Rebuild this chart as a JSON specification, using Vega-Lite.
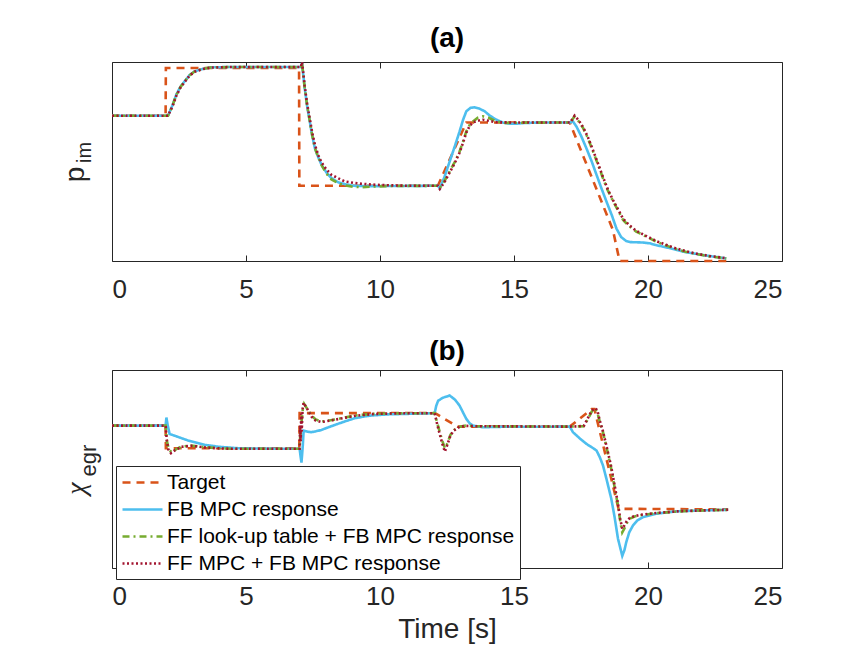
{
  "$schema": "https://vega.github.io/schema/vega-lite/v6.json",
  "padding": {"left": 60, "top": 24, "right": 20, "bottom": 5},
  "config": {
    "font": "Liberation Sans",
    "view": {"stroke": "#262626", "strokeWidth": 1},
    "axis": {"grid": false, "domain": false, "tickColor": "#262626", "labelColor": "#262626", "titleColor": "#262626", "labelFont": "Liberation Sans", "titleFont": "Liberation Sans", "titleFontWeight": "normal"},
    "title": {"font": "Liberation Sans", "fontSize": 28, "fontWeight": "bold", "color": "black", "offset": 4},
    "legend": {
      "orient": "none", "legendX": 4, "legendY": 404,
      "title": null, "labelFontSize": 21, "labelFont": "Liberation Sans", "labelColor": "black", "labelLimit": 600,
      "symbolType": "M-1,0H3", "symbolSize": 400, "symbolStrokeWidth": 2.5,
      "labelOffset": 23, "padding": 5, "rowPadding": 5,
      "strokeColor": "#262626", "fillColor": "white"
    }
  },
  "datasets": {
    "a": [
      {"t": 0, "v": 0.730, "s": "Target"}, {"t": 2.0, "v": 0.730, "s": "Target"}, {"t": 2.01, "v": 0.970, "s": "Target"}, {"t": 6.98, "v": 0.970, "s": "Target"}, {"t": 6.99, "v": 0.378, "s": "Target"}, {"t": 12.16, "v": 0.378, "s": "Target"}, {"t": 13.22, "v": 0.696, "s": "Target"}, {"t": 17.08, "v": 0.696, "s": "Target"}, {"t": 18.69, "v": 0.156, "s": "Target"}, {"t": 18.94, "v": 0.0, "s": "Target"}, {"t": 22.95, "v": 0.0, "s": "Target"},

      {"t": 0, "v": 0.730, "s": "FB MPC response"}, {"t": 2.09, "v": 0.730, "s": "FB MPC response"}, {"t": 2.25, "v": 0.78, "s": "FB MPC response"}, {"t": 2.40, "v": 0.836, "s": "FB MPC response"}, {"t": 2.55, "v": 0.875, "s": "FB MPC response"}, {"t": 2.71, "v": 0.903, "s": "FB MPC response"}, {"t": 2.9, "v": 0.935, "s": "FB MPC response"}, {"t": 3.08, "v": 0.953, "s": "FB MPC response"}, {"t": 3.4, "v": 0.966, "s": "FB MPC response"}, {"t": 3.7, "v": 0.973, "s": "FB MPC response"}, {"t": 4.5, "v": 0.975, "s": "FB MPC response"}, {"t": 7.05, "v": 0.975, "s": "FB MPC response"}, {"t": 7.09, "v": 0.995, "s": "FB MPC response"}, {"t": 7.19, "v": 0.869, "s": "FB MPC response"}, {"t": 7.28, "v": 0.78, "s": "FB MPC response"}, {"t": 7.38, "v": 0.701, "s": "FB MPC response"}, {"t": 7.47, "v": 0.63, "s": "FB MPC response"}, {"t": 7.57, "v": 0.567, "s": "FB MPC response"}, {"t": 7.7, "v": 0.52, "s": "FB MPC response"}, {"t": 7.82, "v": 0.483, "s": "FB MPC response"}, {"t": 8.0, "v": 0.445, "s": "FB MPC response"}, {"t": 8.19, "v": 0.416, "s": "FB MPC response"}, {"t": 8.45, "v": 0.395, "s": "FB MPC response"}, {"t": 8.69, "v": 0.386, "s": "FB MPC response"}, {"t": 9.0, "v": 0.378, "s": "FB MPC response"}, {"t": 9.5, "v": 0.376, "s": "FB MPC response"}, {"t": 10.5, "v": 0.377, "s": "FB MPC response"}, {"t": 12.16, "v": 0.378, "s": "FB MPC response"}, {"t": 12.23, "v": 0.366, "s": "FB MPC response"}, {"t": 12.4, "v": 0.42, "s": "FB MPC response"}, {"t": 12.6, "v": 0.50, "s": "FB MPC response"}, {"t": 12.8, "v": 0.58, "s": "FB MPC response"}, {"t": 12.97, "v": 0.651, "s": "FB MPC response"}, {"t": 13.1, "v": 0.71, "s": "FB MPC response"}, {"t": 13.22, "v": 0.752, "s": "FB MPC response"}, {"t": 13.38, "v": 0.77, "s": "FB MPC response"}, {"t": 13.53, "v": 0.772, "s": "FB MPC response"}, {"t": 13.7, "v": 0.766, "s": "FB MPC response"}, {"t": 13.91, "v": 0.752, "s": "FB MPC response"}, {"t": 14.1, "v": 0.73, "s": "FB MPC response"}, {"t": 14.34, "v": 0.71, "s": "FB MPC response"}, {"t": 14.6, "v": 0.695, "s": "FB MPC response"}, {"t": 14.84, "v": 0.690, "s": "FB MPC response"}, {"t": 15.1, "v": 0.690, "s": "FB MPC response"}, {"t": 15.34, "v": 0.693, "s": "FB MPC response"}, {"t": 15.96, "v": 0.696, "s": "FB MPC response"}, {"t": 17.08, "v": 0.696, "s": "FB MPC response"}, {"t": 17.2, "v": 0.701, "s": "FB MPC response"}, {"t": 17.33, "v": 0.676, "s": "FB MPC response"}, {"t": 17.5, "v": 0.63, "s": "FB MPC response"}, {"t": 17.7, "v": 0.567, "s": "FB MPC response"}, {"t": 17.9, "v": 0.50, "s": "FB MPC response"}, {"t": 18.08, "v": 0.433, "s": "FB MPC response"}, {"t": 18.25, "v": 0.37, "s": "FB MPC response"}, {"t": 18.45, "v": 0.299, "s": "FB MPC response"}, {"t": 18.65, "v": 0.23, "s": "FB MPC response"}, {"t": 18.82, "v": 0.164, "s": "FB MPC response"}, {"t": 19.0, "v": 0.12, "s": "FB MPC response"}, {"t": 19.19, "v": 0.10, "s": "FB MPC response"}, {"t": 19.35, "v": 0.095, "s": "FB MPC response"}, {"t": 19.56, "v": 0.094, "s": "FB MPC response"}, {"t": 19.8, "v": 0.093, "s": "FB MPC response"}, {"t": 20.06, "v": 0.089, "s": "FB MPC response"}, {"t": 20.3, "v": 0.080, "s": "FB MPC response"}, {"t": 20.56, "v": 0.072, "s": "FB MPC response"}, {"t": 20.9, "v": 0.062, "s": "FB MPC response"}, {"t": 21.3, "v": 0.047, "s": "FB MPC response"}, {"t": 21.7, "v": 0.038, "s": "FB MPC response"}, {"t": 22.05, "v": 0.030, "s": "FB MPC response"}, {"t": 22.5, "v": 0.021, "s": "FB MPC response"}, {"t": 22.92, "v": 0.013, "s": "FB MPC response"},

      {"t": 0, "v": 0.730, "s": "FF look-up table + FB MPC response"}, {"t": 2.09, "v": 0.730, "s": "FF look-up table + FB MPC response"}, {"t": 2.25, "v": 0.778, "s": "FF look-up table + FB MPC response"}, {"t": 2.40, "v": 0.834, "s": "FF look-up table + FB MPC response"}, {"t": 2.55, "v": 0.873, "s": "FF look-up table + FB MPC response"}, {"t": 2.71, "v": 0.902, "s": "FF look-up table + FB MPC response"}, {"t": 2.9, "v": 0.934, "s": "FF look-up table + FB MPC response"}, {"t": 3.08, "v": 0.952, "s": "FF look-up table + FB MPC response"}, {"t": 3.4, "v": 0.966, "s": "FF look-up table + FB MPC response"}, {"t": 3.7, "v": 0.973, "s": "FF look-up table + FB MPC response"}, {"t": 4.5, "v": 0.975, "s": "FF look-up table + FB MPC response"}, {"t": 7.05, "v": 0.975, "s": "FF look-up table + FB MPC response"}, {"t": 7.09, "v": 0.995, "s": "FF look-up table + FB MPC response"}, {"t": 7.19, "v": 0.870, "s": "FF look-up table + FB MPC response"}, {"t": 7.28, "v": 0.782, "s": "FF look-up table + FB MPC response"}, {"t": 7.38, "v": 0.703, "s": "FF look-up table + FB MPC response"}, {"t": 7.47, "v": 0.632, "s": "FF look-up table + FB MPC response"}, {"t": 7.57, "v": 0.568, "s": "FF look-up table + FB MPC response"}, {"t": 7.7, "v": 0.52, "s": "FF look-up table + FB MPC response"}, {"t": 7.82, "v": 0.482, "s": "FF look-up table + FB MPC response"}, {"t": 8.0, "v": 0.44, "s": "FF look-up table + FB MPC response"}, {"t": 8.19, "v": 0.41, "s": "FF look-up table + FB MPC response"}, {"t": 8.45, "v": 0.39, "s": "FF look-up table + FB MPC response"}, {"t": 8.69, "v": 0.38, "s": "FF look-up table + FB MPC response"}, {"t": 9.0, "v": 0.373, "s": "FF look-up table + FB MPC response"}, {"t": 9.3, "v": 0.371, "s": "FF look-up table + FB MPC response"}, {"t": 9.8, "v": 0.374, "s": "FF look-up table + FB MPC response"}, {"t": 10.5, "v": 0.377, "s": "FF look-up table + FB MPC response"}, {"t": 12.16, "v": 0.378, "s": "FF look-up table + FB MPC response"}, {"t": 12.23, "v": 0.366, "s": "FF look-up table + FB MPC response"}, {"t": 12.4, "v": 0.40, "s": "FF look-up table + FB MPC response"}, {"t": 12.6, "v": 0.45, "s": "FF look-up table + FB MPC response"}, {"t": 12.8, "v": 0.50, "s": "FF look-up table + FB MPC response"}, {"t": 12.97, "v": 0.55, "s": "FF look-up table + FB MPC response"}, {"t": 13.1, "v": 0.60, "s": "FF look-up table + FB MPC response"}, {"t": 13.22, "v": 0.651, "s": "FF look-up table + FB MPC response"}, {"t": 13.35, "v": 0.685, "s": "FF look-up table + FB MPC response"}, {"t": 13.47, "v": 0.701, "s": "FF look-up table + FB MPC response"}, {"t": 13.65, "v": 0.72, "s": "FF look-up table + FB MPC response"}, {"t": 13.84, "v": 0.727, "s": "FF look-up table + FB MPC response"}, {"t": 14.05, "v": 0.72, "s": "FF look-up table + FB MPC response"}, {"t": 14.34, "v": 0.701, "s": "FF look-up table + FB MPC response"}, {"t": 14.7, "v": 0.694, "s": "FF look-up table + FB MPC response"}, {"t": 15.2, "v": 0.695, "s": "FF look-up table + FB MPC response"}, {"t": 17.1, "v": 0.696, "s": "FF look-up table + FB MPC response"}, {"t": 17.26, "v": 0.727, "s": "FF look-up table + FB MPC response"}, {"t": 17.4, "v": 0.705, "s": "FF look-up table + FB MPC response"}, {"t": 17.58, "v": 0.668, "s": "FF look-up table + FB MPC response"}, {"t": 17.75, "v": 0.62, "s": "FF look-up table + FB MPC response"}, {"t": 17.95, "v": 0.55, "s": "FF look-up table + FB MPC response"}, {"t": 18.12, "v": 0.49, "s": "FF look-up table + FB MPC response"}, {"t": 18.32, "v": 0.416, "s": "FF look-up table + FB MPC response"}, {"t": 18.5, "v": 0.355, "s": "FF look-up table + FB MPC response"}, {"t": 18.7, "v": 0.299, "s": "FF look-up table + FB MPC response"}, {"t": 18.9, "v": 0.25, "s": "FF look-up table + FB MPC response"}, {"t": 19.07, "v": 0.206, "s": "FF look-up table + FB MPC response"}, {"t": 19.3, "v": 0.175, "s": "FF look-up table + FB MPC response"}, {"t": 19.56, "v": 0.148, "s": "FF look-up table + FB MPC response"}, {"t": 19.9, "v": 0.125, "s": "FF look-up table + FB MPC response"}, {"t": 20.31, "v": 0.097, "s": "FF look-up table + FB MPC response"}, {"t": 20.7, "v": 0.077, "s": "FF look-up table + FB MPC response"}, {"t": 21.05, "v": 0.060, "s": "FF look-up table + FB MPC response"}, {"t": 21.4, "v": 0.047, "s": "FF look-up table + FB MPC response"}, {"t": 21.8, "v": 0.035, "s": "FF look-up table + FB MPC response"}, {"t": 22.3, "v": 0.023, "s": "FF look-up table + FB MPC response"}, {"t": 22.92, "v": 0.013, "s": "FF look-up table + FB MPC response"},

      {"t": 0, "v": 0.730, "s": "FF MPC + FB MPC response"}, {"t": 2.09, "v": 0.730, "s": "FF MPC + FB MPC response"}, {"t": 2.25, "v": 0.775, "s": "FF MPC + FB MPC response"}, {"t": 2.40, "v": 0.83, "s": "FF MPC + FB MPC response"}, {"t": 2.55, "v": 0.87, "s": "FF MPC + FB MPC response"}, {"t": 2.71, "v": 0.90, "s": "FF MPC + FB MPC response"}, {"t": 2.9, "v": 0.932, "s": "FF MPC + FB MPC response"}, {"t": 3.08, "v": 0.951, "s": "FF MPC + FB MPC response"}, {"t": 3.4, "v": 0.965, "s": "FF MPC + FB MPC response"}, {"t": 3.7, "v": 0.972, "s": "FF MPC + FB MPC response"}, {"t": 4.5, "v": 0.975, "s": "FF MPC + FB MPC response"}, {"t": 7.05, "v": 0.975, "s": "FF MPC + FB MPC response"}, {"t": 7.09, "v": 1.0, "s": "FF MPC + FB MPC response"}, {"t": 7.19, "v": 0.88, "s": "FF MPC + FB MPC response"}, {"t": 7.28, "v": 0.79, "s": "FF MPC + FB MPC response"}, {"t": 7.38, "v": 0.715, "s": "FF MPC + FB MPC response"}, {"t": 7.47, "v": 0.645, "s": "FF MPC + FB MPC response"}, {"t": 7.57, "v": 0.585, "s": "FF MPC + FB MPC response"}, {"t": 7.7, "v": 0.53, "s": "FF MPC + FB MPC response"}, {"t": 7.82, "v": 0.495, "s": "FF MPC + FB MPC response"}, {"t": 8.0, "v": 0.46, "s": "FF MPC + FB MPC response"}, {"t": 8.19, "v": 0.433, "s": "FF MPC + FB MPC response"}, {"t": 8.45, "v": 0.415, "s": "FF MPC + FB MPC response"}, {"t": 8.69, "v": 0.40, "s": "FF MPC + FB MPC response"}, {"t": 9.0, "v": 0.393, "s": "FF MPC + FB MPC response"}, {"t": 9.3, "v": 0.388, "s": "FF MPC + FB MPC response"}, {"t": 9.7, "v": 0.384, "s": "FF MPC + FB MPC response"}, {"t": 10.2, "v": 0.381, "s": "FF MPC + FB MPC response"}, {"t": 11.0, "v": 0.378, "s": "FF MPC + FB MPC response"}, {"t": 12.16, "v": 0.378, "s": "FF MPC + FB MPC response"}, {"t": 12.23, "v": 0.362, "s": "FF MPC + FB MPC response"}, {"t": 12.4, "v": 0.395, "s": "FF MPC + FB MPC response"}, {"t": 12.6, "v": 0.445, "s": "FF MPC + FB MPC response"}, {"t": 12.8, "v": 0.495, "s": "FF MPC + FB MPC response"}, {"t": 12.97, "v": 0.545, "s": "FF MPC + FB MPC response"}, {"t": 13.1, "v": 0.595, "s": "FF MPC + FB MPC response"}, {"t": 13.22, "v": 0.645, "s": "FF MPC + FB MPC response"}, {"t": 13.35, "v": 0.68, "s": "FF MPC + FB MPC response"}, {"t": 13.47, "v": 0.697, "s": "FF MPC + FB MPC response"}, {"t": 13.65, "v": 0.705, "s": "FF MPC + FB MPC response"}, {"t": 13.84, "v": 0.71, "s": "FF MPC + FB MPC response"}, {"t": 14.05, "v": 0.705, "s": "FF MPC + FB MPC response"}, {"t": 14.34, "v": 0.697, "s": "FF MPC + FB MPC response"}, {"t": 15.0, "v": 0.696, "s": "FF MPC + FB MPC response"}, {"t": 17.1, "v": 0.696, "s": "FF MPC + FB MPC response"}, {"t": 17.26, "v": 0.73, "s": "FF MPC + FB MPC response"}, {"t": 17.4, "v": 0.71, "s": "FF MPC + FB MPC response"}, {"t": 17.58, "v": 0.672, "s": "FF MPC + FB MPC response"}, {"t": 17.75, "v": 0.625, "s": "FF MPC + FB MPC response"}, {"t": 17.95, "v": 0.556, "s": "FF MPC + FB MPC response"}, {"t": 18.12, "v": 0.495, "s": "FF MPC + FB MPC response"}, {"t": 18.32, "v": 0.422, "s": "FF MPC + FB MPC response"}, {"t": 18.5, "v": 0.36, "s": "FF MPC + FB MPC response"}, {"t": 18.7, "v": 0.305, "s": "FF MPC + FB MPC response"}, {"t": 18.9, "v": 0.255, "s": "FF MPC + FB MPC response"}, {"t": 19.07, "v": 0.212, "s": "FF MPC + FB MPC response"}, {"t": 19.3, "v": 0.18, "s": "FF MPC + FB MPC response"}, {"t": 19.56, "v": 0.152, "s": "FF MPC + FB MPC response"}, {"t": 19.9, "v": 0.128, "s": "FF MPC + FB MPC response"}, {"t": 20.31, "v": 0.10, "s": "FF MPC + FB MPC response"}, {"t": 20.7, "v": 0.08, "s": "FF MPC + FB MPC response"}, {"t": 21.05, "v": 0.063, "s": "FF MPC + FB MPC response"}, {"t": 21.4, "v": 0.05, "s": "FF MPC + FB MPC response"}, {"t": 21.8, "v": 0.037, "s": "FF MPC + FB MPC response"}, {"t": 22.3, "v": 0.025, "s": "FF MPC + FB MPC response"}, {"t": 22.92, "v": 0.014, "s": "FF MPC + FB MPC response"}
    ],
    "b": [
      {"t": 0, "v": 0.719, "s": "Target"}, {"t": 2.0, "v": 0.719, "s": "Target"}, {"t": 2.01, "v": 0.605, "s": "Target"}, {"t": 6.99, "v": 0.605, "s": "Target"}, {"t": 7.0, "v": 0.782, "s": "Target"}, {"t": 12.05, "v": 0.782, "s": "Target"}, {"t": 12.9, "v": 0.714, "s": "Target"}, {"t": 17.08, "v": 0.714, "s": "Target"}, {"t": 17.9, "v": 0.803, "s": "Target"}, {"t": 18.0, "v": 0.803, "s": "Target"}, {"t": 18.9, "v": 0.299, "s": "Target"}, {"t": 22.99, "v": 0.296, "s": "Target"},

      {"t": 0, "v": 0.719, "s": "FB MPC response"}, {"t": 2.0, "v": 0.719, "s": "FB MPC response"}, {"t": 2.03, "v": 0.76, "s": "FB MPC response"}, {"t": 2.08, "v": 0.72, "s": "FB MPC response"}, {"t": 2.15, "v": 0.677, "s": "FB MPC response"}, {"t": 2.4, "v": 0.665, "s": "FB MPC response"}, {"t": 2.84, "v": 0.644, "s": "FB MPC response"}, {"t": 3.46, "v": 0.622, "s": "FB MPC response"}, {"t": 4.0, "v": 0.612, "s": "FB MPC response"}, {"t": 4.7, "v": 0.605, "s": "FB MPC response"}, {"t": 5.5, "v": 0.603, "s": "FB MPC response"}, {"t": 7.0, "v": 0.602, "s": "FB MPC response"}, {"t": 7.04, "v": 0.56, "s": "FB MPC response"}, {"t": 7.07, "v": 0.532, "s": "FB MPC response"}, {"t": 7.12, "v": 0.62, "s": "FB MPC response"}, {"t": 7.15, "v": 0.694, "s": "FB MPC response"}, {"t": 7.3, "v": 0.688, "s": "FB MPC response"}, {"t": 7.44, "v": 0.686, "s": "FB MPC response"}, {"t": 7.6, "v": 0.69, "s": "FB MPC response"}, {"t": 7.81, "v": 0.697, "s": "FB MPC response"}, {"t": 8.1, "v": 0.712, "s": "FB MPC response"}, {"t": 8.43, "v": 0.728, "s": "FB MPC response"}, {"t": 8.75, "v": 0.743, "s": "FB MPC response"}, {"t": 9.05, "v": 0.756, "s": "FB MPC response"}, {"t": 9.4, "v": 0.765, "s": "FB MPC response"}, {"t": 9.68, "v": 0.77, "s": "FB MPC response"}, {"t": 10.3, "v": 0.776, "s": "FB MPC response"}, {"t": 10.9, "v": 0.778, "s": "FB MPC response"}, {"t": 12.04, "v": 0.782, "s": "FB MPC response"}, {"t": 12.1, "v": 0.82, "s": "FB MPC response"}, {"t": 12.17, "v": 0.845, "s": "FB MPC response"}, {"t": 12.35, "v": 0.86, "s": "FB MPC response"}, {"t": 12.6, "v": 0.871, "s": "FB MPC response"}, {"t": 12.8, "v": 0.85, "s": "FB MPC response"}, {"t": 12.97, "v": 0.82, "s": "FB MPC response"}, {"t": 13.1, "v": 0.785, "s": "FB MPC response"}, {"t": 13.22, "v": 0.753, "s": "FB MPC response"}, {"t": 13.35, "v": 0.73, "s": "FB MPC response"}, {"t": 13.47, "v": 0.719, "s": "FB MPC response"}, {"t": 13.84, "v": 0.711, "s": "FB MPC response"}, {"t": 14.5, "v": 0.713, "s": "FB MPC response"}, {"t": 17.08, "v": 0.714, "s": "FB MPC response"}, {"t": 17.2, "v": 0.686, "s": "FB MPC response"}, {"t": 17.45, "v": 0.655, "s": "FB MPC response"}, {"t": 17.7, "v": 0.627, "s": "FB MPC response"}, {"t": 17.9, "v": 0.61, "s": "FB MPC response"}, {"t": 18.08, "v": 0.593, "s": "FB MPC response"}, {"t": 18.2, "v": 0.56, "s": "FB MPC response"}, {"t": 18.32, "v": 0.518, "s": "FB MPC response"}, {"t": 18.45, "v": 0.45, "s": "FB MPC response"}, {"t": 18.63, "v": 0.35, "s": "FB MPC response"}, {"t": 18.75, "v": 0.26, "s": "FB MPC response"}, {"t": 18.88, "v": 0.148, "s": "FB MPC response"}, {"t": 19.04, "v": 0.061, "s": "FB MPC response"}, {"t": 19.12, "v": 0.09, "s": "FB MPC response"}, {"t": 19.19, "v": 0.131, "s": "FB MPC response"}, {"t": 19.3, "v": 0.18, "s": "FB MPC response"}, {"t": 19.44, "v": 0.215, "s": "FB MPC response"}, {"t": 19.6, "v": 0.24, "s": "FB MPC response"}, {"t": 19.81, "v": 0.257, "s": "FB MPC response"}, {"t": 20.31, "v": 0.274, "s": "FB MPC response"}, {"t": 20.7, "v": 0.281, "s": "FB MPC response"}, {"t": 21.18, "v": 0.287, "s": "FB MPC response"}, {"t": 22.05, "v": 0.291, "s": "FB MPC response"}, {"t": 22.99, "v": 0.294, "s": "FB MPC response"},

      {"t": 0, "v": 0.719, "s": "FF look-up table + FB MPC response"}, {"t": 2.0, "v": 0.719, "s": "FF look-up table + FB MPC response"}, {"t": 2.05, "v": 0.64, "s": "FF look-up table + FB MPC response"}, {"t": 2.12, "v": 0.60, "s": "FF look-up table + FB MPC response"}, {"t": 2.22, "v": 0.585, "s": "FF look-up table + FB MPC response"}, {"t": 2.4, "v": 0.60, "s": "FF look-up table + FB MPC response"}, {"t": 2.59, "v": 0.613, "s": "FF look-up table + FB MPC response"}, {"t": 2.96, "v": 0.618, "s": "FF look-up table + FB MPC response"}, {"t": 3.2, "v": 0.615, "s": "FF look-up table + FB MPC response"}, {"t": 3.46, "v": 0.61, "s": "FF look-up table + FB MPC response"}, {"t": 4.0, "v": 0.605, "s": "FF look-up table + FB MPC response"}, {"t": 4.5, "v": 0.602, "s": "FF look-up table + FB MPC response"}, {"t": 7.0, "v": 0.602, "s": "FF look-up table + FB MPC response"}, {"t": 7.02, "v": 0.66, "s": "FF look-up table + FB MPC response"}, {"t": 7.05, "v": 0.70, "s": "FF look-up table + FB MPC response"}, {"t": 7.08, "v": 0.75, "s": "FF look-up table + FB MPC response"}, {"t": 7.12, "v": 0.80, "s": "FF look-up table + FB MPC response"}, {"t": 7.17, "v": 0.829, "s": "FF look-up table + FB MPC response"}, {"t": 7.3, "v": 0.80, "s": "FF look-up table + FB MPC response"}, {"t": 7.44, "v": 0.77, "s": "FF look-up table + FB MPC response"}, {"t": 7.6, "v": 0.75, "s": "FF look-up table + FB MPC response"}, {"t": 7.81, "v": 0.739, "s": "FF look-up table + FB MPC response"}, {"t": 8.1, "v": 0.745, "s": "FF look-up table + FB MPC response"}, {"t": 8.43, "v": 0.753, "s": "FF look-up table + FB MPC response"}, {"t": 9.05, "v": 0.77, "s": "FF look-up table + FB MPC response"}, {"t": 9.68, "v": 0.778, "s": "FF look-up table + FB MPC response"}, {"t": 10.5, "v": 0.781, "s": "FF look-up table + FB MPC response"}, {"t": 12.04, "v": 0.782, "s": "FF look-up table + FB MPC response"}, {"t": 12.1, "v": 0.75, "s": "FF look-up table + FB MPC response"}, {"t": 12.23, "v": 0.686, "s": "FF look-up table + FB MPC response"}, {"t": 12.33, "v": 0.64, "s": "FF look-up table + FB MPC response"}, {"t": 12.42, "v": 0.605, "s": "FF look-up table + FB MPC response"}, {"t": 12.52, "v": 0.63, "s": "FF look-up table + FB MPC response"}, {"t": 12.62, "v": 0.67, "s": "FF look-up table + FB MPC response"}, {"t": 12.73, "v": 0.694, "s": "FF look-up table + FB MPC response"}, {"t": 12.97, "v": 0.714, "s": "FF look-up table + FB MPC response"}, {"t": 13.2, "v": 0.719, "s": "FF look-up table + FB MPC response"}, {"t": 13.6, "v": 0.716, "s": "FF look-up table + FB MPC response"}, {"t": 17.08, "v": 0.714, "s": "FF look-up table + FB MPC response"}, {"t": 17.6, "v": 0.716, "s": "FF look-up table + FB MPC response"}, {"t": 17.75, "v": 0.75, "s": "FF look-up table + FB MPC response"}, {"t": 17.9, "v": 0.79, "s": "FF look-up table + FB MPC response"}, {"t": 18.02, "v": 0.805, "s": "FF look-up table + FB MPC response"}, {"t": 18.1, "v": 0.79, "s": "FF look-up table + FB MPC response"}, {"t": 18.2, "v": 0.74, "s": "FF look-up table + FB MPC response"}, {"t": 18.32, "v": 0.686, "s": "FF look-up table + FB MPC response"}, {"t": 18.47, "v": 0.60, "s": "FF look-up table + FB MPC response"}, {"t": 18.63, "v": 0.50, "s": "FF look-up table + FB MPC response"}, {"t": 18.75, "v": 0.41, "s": "FF look-up table + FB MPC response"}, {"t": 18.88, "v": 0.316, "s": "FF look-up table + FB MPC response"}, {"t": 18.96, "v": 0.24, "s": "FF look-up table + FB MPC response"}, {"t": 19.04, "v": 0.18, "s": "FF look-up table + FB MPC response"}, {"t": 19.12, "v": 0.20, "s": "FF look-up table + FB MPC response"}, {"t": 19.2, "v": 0.225, "s": "FF look-up table + FB MPC response"}, {"t": 19.32, "v": 0.249, "s": "FF look-up table + FB MPC response"}, {"t": 19.5, "v": 0.26, "s": "FF look-up table + FB MPC response"}, {"t": 19.69, "v": 0.266, "s": "FF look-up table + FB MPC response"}, {"t": 20.31, "v": 0.277, "s": "FF look-up table + FB MPC response"}, {"t": 21.18, "v": 0.286, "s": "FF look-up table + FB MPC response"}, {"t": 22.1, "v": 0.291, "s": "FF look-up table + FB MPC response"}, {"t": 22.99, "v": 0.294, "s": "FF look-up table + FB MPC response"},

      {"t": 0, "v": 0.719, "s": "FF MPC + FB MPC response"}, {"t": 2.0, "v": 0.719, "s": "FF MPC + FB MPC response"}, {"t": 2.04, "v": 0.65, "s": "FF MPC + FB MPC response"}, {"t": 2.1, "v": 0.60, "s": "FF MPC + FB MPC response"}, {"t": 2.2, "v": 0.58, "s": "FF MPC + FB MPC response"}, {"t": 2.35, "v": 0.595, "s": "FF MPC + FB MPC response"}, {"t": 2.59, "v": 0.612, "s": "FF MPC + FB MPC response"}, {"t": 2.96, "v": 0.617, "s": "FF MPC + FB MPC response"}, {"t": 3.2, "v": 0.614, "s": "FF MPC + FB MPC response"}, {"t": 3.46, "v": 0.609, "s": "FF MPC + FB MPC response"}, {"t": 4.0, "v": 0.604, "s": "FF MPC + FB MPC response"}, {"t": 4.5, "v": 0.602, "s": "FF MPC + FB MPC response"}, {"t": 7.0, "v": 0.602, "s": "FF MPC + FB MPC response"}, {"t": 7.02, "v": 0.72, "s": "FF MPC + FB MPC response"}, {"t": 7.04, "v": 0.64, "s": "FF MPC + FB MPC response"}, {"t": 7.06, "v": 0.78, "s": "FF MPC + FB MPC response"}, {"t": 7.08, "v": 0.69, "s": "FF MPC + FB MPC response"}, {"t": 7.11, "v": 0.80, "s": "FF MPC + FB MPC response"}, {"t": 7.15, "v": 0.835, "s": "FF MPC + FB MPC response"}, {"t": 7.3, "v": 0.80, "s": "FF MPC + FB MPC response"}, {"t": 7.44, "v": 0.765, "s": "FF MPC + FB MPC response"}, {"t": 7.6, "v": 0.745, "s": "FF MPC + FB MPC response"}, {"t": 7.81, "v": 0.737, "s": "FF MPC + FB MPC response"}, {"t": 8.1, "v": 0.744, "s": "FF MPC + FB MPC response"}, {"t": 8.43, "v": 0.752, "s": "FF MPC + FB MPC response"}, {"t": 9.05, "v": 0.768, "s": "FF MPC + FB MPC response"}, {"t": 9.68, "v": 0.777, "s": "FF MPC + FB MPC response"}, {"t": 10.5, "v": 0.781, "s": "FF MPC + FB MPC response"}, {"t": 12.04, "v": 0.782, "s": "FF MPC + FB MPC response"}, {"t": 12.1, "v": 0.745, "s": "FF MPC + FB MPC response"}, {"t": 12.23, "v": 0.675, "s": "FF MPC + FB MPC response"}, {"t": 12.33, "v": 0.625, "s": "FF MPC + FB MPC response"}, {"t": 12.42, "v": 0.588, "s": "FF MPC + FB MPC response"}, {"t": 12.52, "v": 0.625, "s": "FF MPC + FB MPC response"}, {"t": 12.62, "v": 0.665, "s": "FF MPC + FB MPC response"}, {"t": 12.73, "v": 0.692, "s": "FF MPC + FB MPC response"}, {"t": 12.97, "v": 0.713, "s": "FF MPC + FB MPC response"}, {"t": 13.2, "v": 0.718, "s": "FF MPC + FB MPC response"}, {"t": 13.6, "v": 0.716, "s": "FF MPC + FB MPC response"}, {"t": 17.08, "v": 0.714, "s": "FF MPC + FB MPC response"}, {"t": 17.6, "v": 0.717, "s": "FF MPC + FB MPC response"}, {"t": 17.75, "v": 0.755, "s": "FF MPC + FB MPC response"}, {"t": 17.9, "v": 0.795, "s": "FF MPC + FB MPC response"}, {"t": 18.05, "v": 0.807, "s": "FF MPC + FB MPC response"}, {"t": 18.12, "v": 0.79, "s": "FF MPC + FB MPC response"}, {"t": 18.2, "v": 0.745, "s": "FF MPC + FB MPC response"}, {"t": 18.32, "v": 0.69, "s": "FF MPC + FB MPC response"}, {"t": 18.47, "v": 0.605, "s": "FF MPC + FB MPC response"}, {"t": 18.63, "v": 0.51, "s": "FF MPC + FB MPC response"}, {"t": 18.75, "v": 0.42, "s": "FF MPC + FB MPC response"}, {"t": 18.88, "v": 0.325, "s": "FF MPC + FB MPC response"}, {"t": 18.96, "v": 0.25, "s": "FF MPC + FB MPC response"}, {"t": 19.04, "v": 0.198, "s": "FF MPC + FB MPC response"}, {"t": 19.12, "v": 0.215, "s": "FF MPC + FB MPC response"}, {"t": 19.2, "v": 0.235, "s": "FF MPC + FB MPC response"}, {"t": 19.32, "v": 0.253, "s": "FF MPC + FB MPC response"}, {"t": 19.5, "v": 0.262, "s": "FF MPC + FB MPC response"}, {"t": 19.69, "v": 0.268, "s": "FF MPC + FB MPC response"}, {"t": 20.31, "v": 0.278, "s": "FF MPC + FB MPC response"}, {"t": 21.18, "v": 0.287, "s": "FF MPC + FB MPC response"}, {"t": 22.1, "v": 0.291, "s": "FF MPC + FB MPC response"}, {"t": 22.99, "v": 0.294, "s": "FF MPC + FB MPC response"}
    ]
  },
  "resolve": {"scale": {"color": "shared", "strokeDash": "shared"}},
  "spacing": 34,
  "vconcat": [
    {
      "title": {"text": "(a)"},
      "width": 670, "height": 199,
      "data": {"name": "a"},
      "layer": [
        {
          "transform": [{"filter": "datum.s === 'Target'"}],
          "mark": {"type": "line", "strokeWidth": 2.6, "clip": false},
          "encoding": {
            "x": {"field": "t", "type": "quantitative", "scale": {"domain": [0, 25], "nice": false}, "axis": {"orient": "bottom", "values": [0, 5, 10, 15, 20, 25], "tickSize": -6, "labelPadding": 21, "labelFontSize": 26, "title": null}},
            "y": {"field": "v", "type": "quantitative", "scale": {"domain": [0, 1], "nice": false, "zero": false}, "axis": {"orient": "left", "ticks": false, "labels": false, "title": "p", "titleFontSize": 28, "titleX": -29, "titleY": 112, "titleAngle": 270, "titleBaseline": "alphabetic", "titleAlign": "center"}},
            "color": {"field": "s", "type": "nominal", "scale": {"domain": ["Target", "FB MPC response", "FF look-up table + FB MPC response", "FF MPC + FB MPC response"], "range": ["#D95319", "#4DBEEE", "#77AC30", "#A2142F"]}},
            "strokeDash": {"field": "s", "type": "nominal", "scale": {"domain": ["Target", "FB MPC response", "FF look-up table + FB MPC response", "FF MPC + FB MPC response"], "range": [[8, 6], [1, 0], [7, 4, 2, 4], [2, 2.5]]}}
          }
        },
        {
          "transform": [{"filter": "datum.s !== 'Target'"}],
          "mark": {"type": "line", "strokeWidth": 2.6, "clip": false},
          "encoding": {
            "x": {"field": "t", "type": "quantitative", "scale": {"domain": [0, 25], "nice": false}, "axis": {"orient": "top", "values": [0, 5, 10, 15, 20, 25], "tickSize": -6, "labels": false, "title": null}},
            "y": {"field": "v", "type": "quantitative", "scale": {"domain": [0, 1], "nice": false, "zero": false}, "axis": {"orient": "left", "ticks": false, "labels": false, "title": "im", "titleFontSize": 20, "titleX": -22, "titleY": 90, "titleAngle": 270, "titleBaseline": "alphabetic", "titleAlign": "center"}},
            "color": {"field": "s", "type": "nominal"},
            "strokeDash": {"field": "s", "type": "nominal"}
          }
        }
      ],
      "resolve": {"axis": {"x": "independent", "y": "independent"}}
    },
    {
      "title": {"text": "(b)"},
      "width": 670, "height": 198,
      "data": {"name": "b"},
      "layer": [
        {
          "transform": [{"filter": "datum.s === 'Target'"}],
          "mark": {"type": "line", "strokeWidth": 2.6, "clip": false},
          "encoding": {
            "x": {"field": "t", "type": "quantitative", "scale": {"domain": [0, 25], "nice": false}, "axis": {"orient": "bottom", "values": [0, 5, 10, 15, 20, 25], "tickSize": -6, "labelPadding": 21, "labelFontSize": 26, "title": "Time [s]", "titleFontSize": 28, "titlePadding": 6}},
            "y": {"field": "v", "type": "quantitative", "scale": {"domain": [0, 1], "nice": false, "zero": false}, "axis": {"orient": "left", "ticks": false, "labels": false, "title": "χ", "titleFont": "Liberation Serif", "titleFontStyle": "italic", "titleFontSize": 28, "titleX": -28, "titleY": 118, "titleAngle": 270, "titleBaseline": "alphabetic", "titleAlign": "center"}},
            "color": {"field": "s", "type": "nominal"},
            "strokeDash": {"field": "s", "type": "nominal"}
          }
        },
        {
          "transform": [{"filter": "datum.s !== 'Target'"}],
          "mark": {"type": "line", "strokeWidth": 2.6, "clip": false},
          "encoding": {
            "x": {"field": "t", "type": "quantitative", "scale": {"domain": [0, 25], "nice": false}, "axis": {"orient": "top", "values": [0, 5, 10, 15, 20, 25], "tickSize": -6, "labels": false, "title": null}},
            "y": {"field": "v", "type": "quantitative", "scale": {"domain": [0, 1], "nice": false, "zero": false}, "axis": {"orient": "left", "ticks": false, "labels": false, "title": "egr", "titleFontSize": 22, "titleX": -17, "titleY": 90, "titleAngle": 270, "titleBaseline": "alphabetic", "titleAlign": "center"}},
            "color": {"field": "s", "type": "nominal"},
            "strokeDash": {"field": "s", "type": "nominal"}
          }
        }
      ],
      "resolve": {"axis": {"x": "independent", "y": "independent"}}
    }
  ]
}
